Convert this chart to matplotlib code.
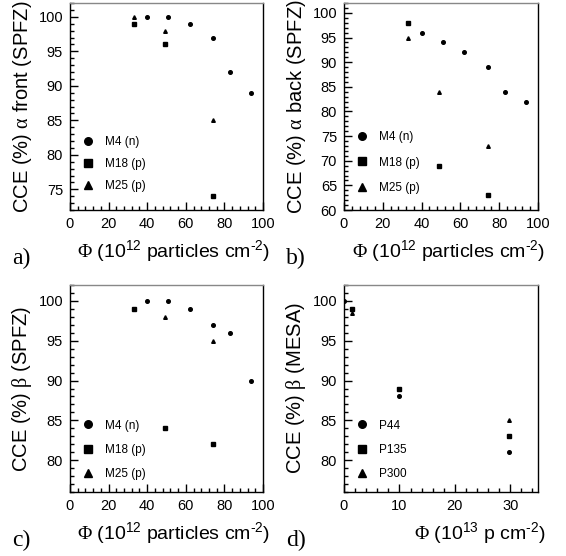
import numpy as np
import matplotlib
matplotlib.use('Agg')
import matplotlib.pyplot as plt
from matplotlib.ticker import MultipleLocator

plt.rcParams['font.family'] = ['Liberation Sans', 'DejaVu Sans']
plt.rcParams['mathtext.fontset'] = 'custom'
plt.rcParams['mathtext.rm'] = 'Liberation Sans'
plt.rcParams['mathtext.it'] = 'Liberation Sans:italic'
plt.rcParams['mathtext.cal'] = 'Liberation Serif'  # serif greek letters

# panel a) alpha front (SPFZ)
a_m4_x = [40, 51, 62, 74, 83, 94]
a_m4_y = [100, 100, 99, 97, 92, 89]
a_m18_x = [33, 49, 74]
a_m18_y = [99, 96, 74]
a_m25_x = [33, 49, 74]
a_m25_y = [100, 98, 85]

# panel b) alpha back (SPFZ)
b_m4_x = [40, 51, 62, 74, 83, 94]
b_m4_y = [96, 94, 92, 89, 84, 82]
b_m18_x = [33, 49, 74]
b_m18_y = [98, 69, 63]
b_m25_x = [33, 49, 74]
b_m25_y = [95, 84, 73]

# panel c) beta (SPFZ)
c_m4_x = [40, 51, 62, 74, 83, 94]
c_m4_y = [100, 100, 99, 97, 96, 90]
c_m18_x = [33, 49, 74]
c_m18_y = [99, 84, 82]
c_m25_x = [49, 74]
c_m25_y = [98, 95]

# panel d) beta (MESA)
d_p44_x = [0, 10, 29.7]
d_p44_y = [100, 88, 81]
d_p135_x = [1.5, 10, 29.7]
d_p135_y = [99, 89, 83]
d_p300_x = [1.5, 29.7]
d_p300_y = [98.5, 85]

spfz_labels = ['M4 (n)', 'M18 (p)', 'M25 (p)']
mesa_labels = ['P44', 'P135', 'P300']
markers = ['o', 's', '^']

W, H = 566, 556
fig = plt.figure(figsize=(W / 100, H / 100), dpi=100)

def box(l, t, r, b) :
	return [l / W, 1 - b / H, (r - l) / W, (b - t) / H]

spfz_x = r'$\mathcal{\Phi}$ (10$^{12}$ particles cm$^{\text{-}2}$)'
mesa_x = r'$\mathcal{\Phi}$ (10$^{13}$ p cm$^{\text{-}2}$)'

panels = [
	dict(rect=box(70, 3, 263, 210), series=[(a_m4_x, a_m4_y), (a_m18_x, a_m18_y), (a_m25_x, a_m25_y)],
		labels=spfz_labels, ylim=(72, 102), xlim=(0, 100), xmaj=20, xmin=4,
		ylabel=r'CCE (%) $\mathcal{\alpha}$ front (SPFZ)', tag='a)',
		xlabel=spfz_x, leg=(0.0, 0.035), sp=0.85),
	dict(rect=box(344, 3, 538, 210), series=[(b_m4_x, b_m4_y), (b_m18_x, b_m18_y), (b_m25_x, b_m25_y)],
		labels=spfz_labels, ylim=(60, 102), xlim=(0, 100), xmaj=20, xmin=4,
		ylabel=r'CCE (%) $\mathcal{\alpha}$ back (SPFZ)', tag='b)',
		xlabel=spfz_x, leg=(0.0, 0.025), sp=1.15),
	dict(rect=box(70, 285, 263, 492), series=[(c_m4_x, c_m4_y), (c_m18_x, c_m18_y), (c_m25_x, c_m25_y)],
		labels=spfz_labels, ylim=(76, 102), xlim=(0, 100), xmaj=20, xmin=4,
		ylabel=r'CCE (%) $\mathcal{\beta}$ (SPFZ)', tag='c)',
		xlabel=spfz_x, leg=(0.0, 0.005), sp=1.05),
	dict(rect=box(344, 285, 538, 492), series=[(d_p44_x, d_p44_y), (d_p135_x, d_p135_y), (d_p300_x, d_p300_y)],
		labels=mesa_labels, ylim=(76, 102), xlim=(0, 35), xmaj=10, xmin=2,
		ylabel=r'CCE (%) $\mathcal{\beta}$ (MESA)', tag='d)',
		xlabel=mesa_x, leg=(0.0, 0.005), sp=1.05),
]

for p in panels :
	ax = fig.add_axes(p['rect'])
	for (x, y), m, lab in zip(p['series'], markers, p['labels']) :
		ax.plot(x, y, linestyle='none', marker=m, color='black', markersize=2.6, label=lab)
	ax.set_xlim(*p['xlim'])
	ax.set_ylim(*p['ylim'])
	ax.xaxis.set_major_locator(MultipleLocator(p['xmaj']))
	ax.xaxis.set_minor_locator(MultipleLocator(p['xmin']))
	ax.yaxis.set_major_locator(MultipleLocator(5))
	ax.yaxis.set_minor_locator(MultipleLocator(1))
	ax.tick_params(which='both', direction='in', labelsize=10.5, pad=5, width=1)
	ax.tick_params(which='major', length=6)
	ax.tick_params(which='minor', length=3)
	for s in ax.spines.values() :
		s.set_linewidth(1)
	ax.spines['top'].set_color('#888888')
	ax.set_ylabel(p['ylabel'], fontsize=14.5, labelpad=3)
	# x title right-aligned at the end of the axis
	ax.set_xlabel(p['xlabel'], fontsize=14, ha='right', va='top')
	ax.xaxis.set_label_coords(1.04, -0.135)
	ax.text(-0.3, -0.235, p['tag'], transform=ax.transAxes, fontsize=17,
		family='Liberation Serif', ha='left', va='center')
	ax.legend(loc='lower left', bbox_to_anchor=p['leg'], frameon=False, markerscale=2.1,
		fontsize=8.5, handlelength=1.2, handletextpad=0.9, labelspacing=p['sp'])

fig.savefig('out.png', dpi=100)
